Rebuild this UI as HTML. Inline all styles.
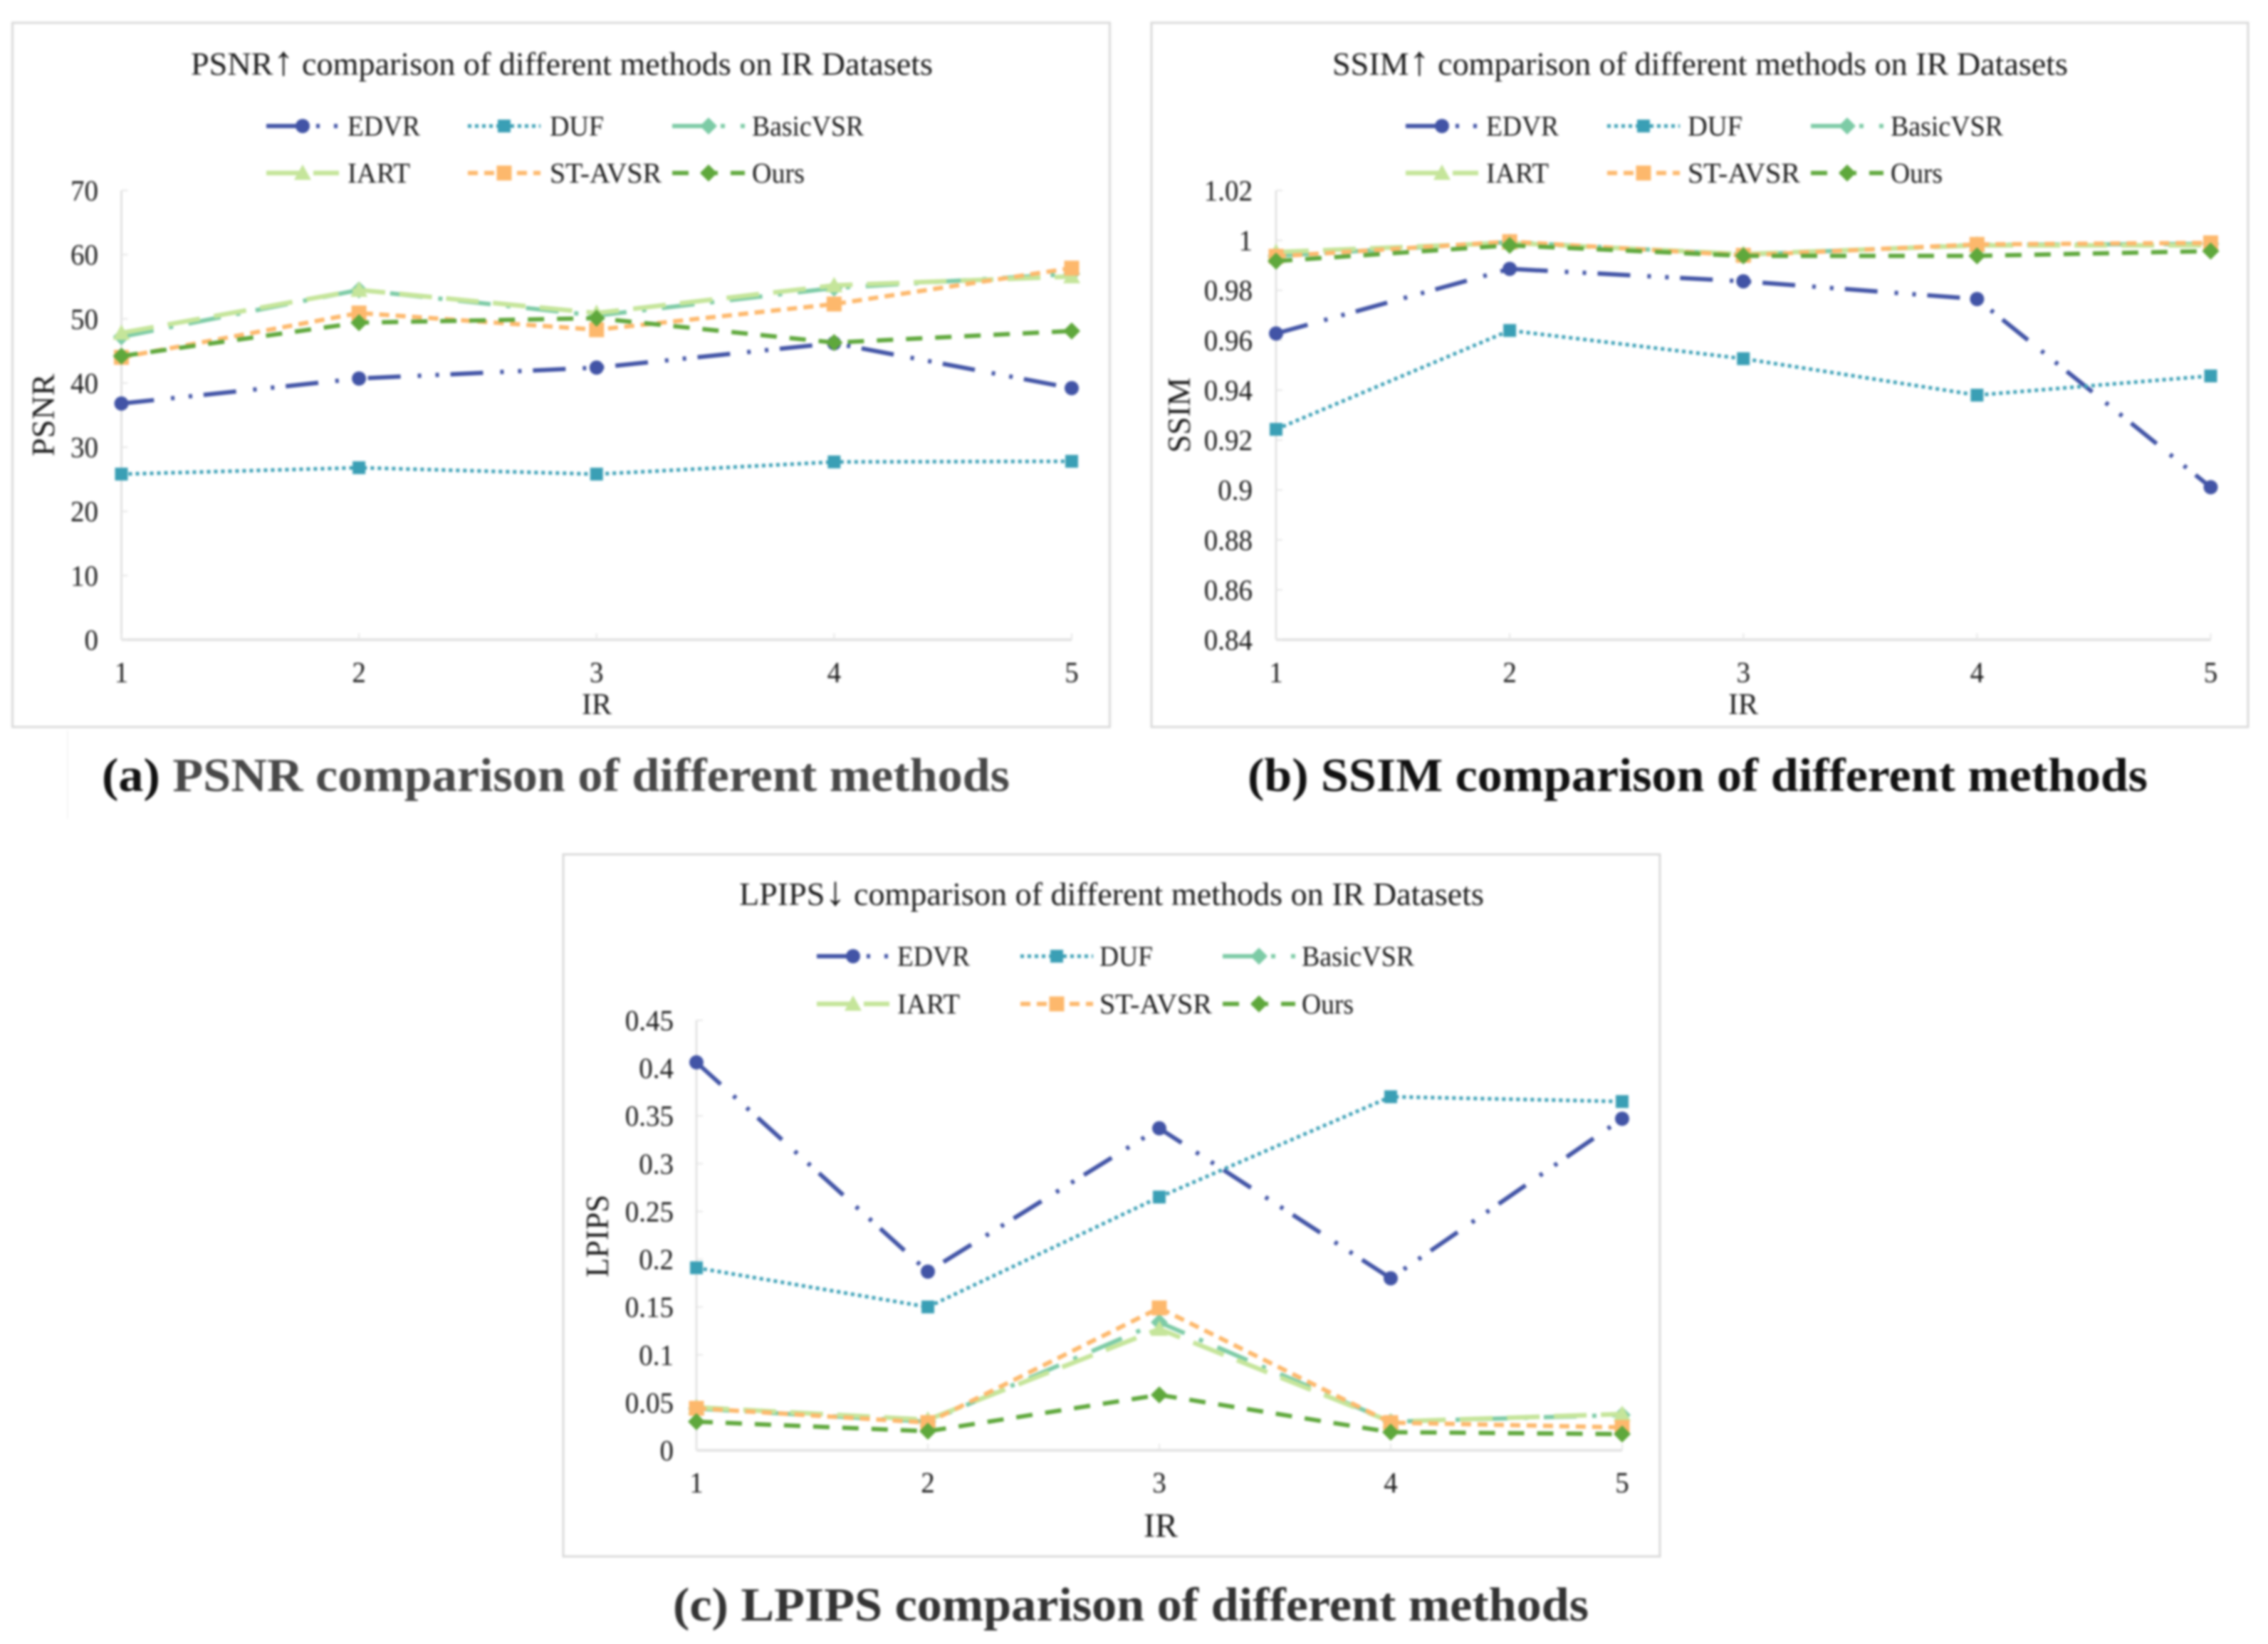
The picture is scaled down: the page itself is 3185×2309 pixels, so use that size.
<!DOCTYPE html>
<html lang="en">
<head>
<meta charset="utf-8">
<title>PSNR, SSIM and LPIPS comparison of different methods</title>
<style>
html,body{margin:0;padding:0;background:#fff;width:3185px;height:2309px;overflow:hidden}
svg{display:block;filter:blur(1.5px)}
text{font-family:"Liberation Serif",serif;fill:#1a1a1a}
.title{font-size:46px}
.arrow{font-size:58px}
.legend{font-size:40px}
.tick{font-size:41px}
.axis{font-size:45px}
.irsmall{font-size:42px}
.irbig{font-size:48px}
.cap{font-size:67px;font-weight:bold}
.frame{fill:#fff;stroke:#d9d9d9;stroke-width:3}
</style>
</head>
<body>
<svg id="figure" xmlns="http://www.w3.org/2000/svg" width="3185" height="2309" viewBox="0 0 3185 2309">
<rect width="3185" height="2309" fill="#fff"/>
<path d="M95 1026V1150" stroke="#f5f5f5" stroke-width="2" fill="none"/>

<g id="panel-a">
<rect class="frame" x="17.5" y="32" width="1541" height="989"/>
<text class="title" x="268" y="105" textLength="1042" lengthAdjust="spacingAndGlyphs">PSNR<tspan class="arrow">↑</tspan> comparison of different methods on IR Datasets</text>
<text class="axis" transform="translate(61 583) rotate(-90)" text-anchor="middle" dominant-baseline="central" textLength="116" lengthAdjust="spacingAndGlyphs">PSNR</text>
<text class="irsmall" x="838" y="990" text-anchor="middle" dominant-baseline="central">IR</text>
<text class="legend" x="488" y="177" dominant-baseline="central" textLength="102" lengthAdjust="spacingAndGlyphs">EDVR</text>
<text class="legend" x="772" y="177" dominant-baseline="central" textLength="76" lengthAdjust="spacingAndGlyphs">DUF</text>
<text class="legend" x="1056" y="177" dominant-baseline="central" textLength="157" lengthAdjust="spacingAndGlyphs">BasicVSR</text>
<text class="legend" x="488" y="243" dominant-baseline="central" textLength="88" lengthAdjust="spacingAndGlyphs">IART</text>
<text class="legend" x="772" y="243" dominant-baseline="central" textLength="157" lengthAdjust="spacingAndGlyphs">ST-AVSR</text>
<text class="legend" x="1056" y="243" dominant-baseline="central" textLength="74" lengthAdjust="spacingAndGlyphs">Ours</text>
</g>

<g id="panel-b">
<rect class="frame" x="1617" y="32" width="1540" height="989"/>
<text class="title" x="1871" y="105" textLength="1033" lengthAdjust="spacingAndGlyphs">SSIM<tspan class="arrow">↑</tspan> comparison of different methods on IR Datasets</text>
<text class="axis" transform="translate(1656 583) rotate(-90)" text-anchor="middle" dominant-baseline="central" textLength="106" lengthAdjust="spacingAndGlyphs">SSIM</text>
<text class="irsmall" x="2448" y="990" text-anchor="middle" dominant-baseline="central">IR</text>
<text class="legend" x="2087" y="177" dominant-baseline="central" textLength="102" lengthAdjust="spacingAndGlyphs">EDVR</text>
<text class="legend" x="2370" y="177" dominant-baseline="central" textLength="77" lengthAdjust="spacingAndGlyphs">DUF</text>
<text class="legend" x="2655" y="177" dominant-baseline="central" textLength="158" lengthAdjust="spacingAndGlyphs">BasicVSR</text>
<text class="legend" x="2087" y="243" dominant-baseline="central" textLength="88" lengthAdjust="spacingAndGlyphs">IART</text>
<text class="legend" x="2370" y="243" dominant-baseline="central" textLength="158" lengthAdjust="spacingAndGlyphs">ST-AVSR</text>
<text class="legend" x="2655" y="243" dominant-baseline="central" textLength="73" lengthAdjust="spacingAndGlyphs">Ours</text>
</g>

<g id="panel-c">
<rect class="frame" x="791" y="1200" width="1540" height="986"/>
<text class="title" x="1038" y="1271" textLength="1046" lengthAdjust="spacingAndGlyphs">LPIPS<tspan class="arrow">↓</tspan> comparison of different methods on IR Datasets</text>
<text class="axis" transform="translate(839 1736) rotate(-90)" text-anchor="middle" dominant-baseline="central" textLength="116" lengthAdjust="spacingAndGlyphs">LPIPS</text>
<text class="irbig" x="1630" y="2143" text-anchor="middle" dominant-baseline="central">IR</text>
<text class="legend" x="1260" y="1343" dominant-baseline="central" textLength="102" lengthAdjust="spacingAndGlyphs">EDVR</text>
<text class="legend" x="1544" y="1343" dominant-baseline="central" textLength="75" lengthAdjust="spacingAndGlyphs">DUF</text>
<text class="legend" x="1828" y="1343" dominant-baseline="central" textLength="158" lengthAdjust="spacingAndGlyphs">BasicVSR</text>
<text class="legend" x="1260" y="1410" dominant-baseline="central" textLength="88" lengthAdjust="spacingAndGlyphs">IART</text>
<text class="legend" x="1544" y="1410" dominant-baseline="central" textLength="158" lengthAdjust="spacingAndGlyphs">ST-AVSR</text>
<text class="legend" x="1828" y="1410" dominant-baseline="central" textLength="73" lengthAdjust="spacingAndGlyphs">Ours</text>
</g>

<text class="cap" x="143" y="1089" dominant-baseline="central" textLength="1275" lengthAdjust="spacingAndGlyphs"><tspan fill="#111">(a) </tspan><tspan fill="#484848">PSNR comparison of different methods</tspan></text>
<text class="cap" x="1752" y="1089" dominant-baseline="central" textLength="1264" lengthAdjust="spacingAndGlyphs"><tspan fill="#111">(b) SSIM comparison of different methods</tspan></text>
<text class="cap" x="945" y="2254" dominant-baseline="central" textLength="1286" lengthAdjust="spacingAndGlyphs"><tspan fill="#333">(c) LPIPS comparison of different methods</tspan></text>
</svg>

<script>
const categories = [1, 2, 3, 4, 5];
const seriesNames = ['EDVR', 'DUF', 'BasicVSR', 'IART', 'ST-AVSR', 'Ours'];

const psnrEdvr = [36.8, 40.7, 42.4, 46.2, 39.2];
const psnrDuf = [25.8, 26.8, 25.8, 27.7, 27.8];
const psnrBasicVsr = [47.2, 54.5, 50.5, 54.8, 57.0];
const psnrIart = [47.8, 54.5, 50.9, 55.2, 56.6];
const psnrStAvsr = [44.0, 50.9, 48.3, 52.3, 57.9];
const psnrOurs = [44.2, 49.4, 50.1, 46.3, 48.1];
const psnrTicks = ['0', '10', '20', '30', '40', '50', '60', '70'];

const ssimEdvr = [0.9627, 0.9886, 0.9836, 0.9765, 0.9011];
const ssimDuf = [0.9243, 0.9639, 0.9526, 0.938, 0.9457];
const ssimBasicVsr = [0.9938, 0.9993, 0.9943, 0.9982, 0.9986];
const ssimIart = [0.9953, 0.999, 0.9945, 0.998, 0.998];
const ssimStAvsr = [0.9936, 0.9995, 0.994, 0.9984, 0.999];
const ssimOurs = [0.9917, 0.998, 0.9938, 0.9938, 0.9957];
const ssimTicks = ['0.84', '0.86', '0.88', '0.9', '0.92', '0.94', '0.96', '0.98', '1', '1.02'];

const lpipsEdvr = [0.406, 0.187, 0.337, 0.18, 0.347];
const lpipsDuf = [0.191, 0.15, 0.265, 0.37, 0.365];
const lpipsBasicVsr = [0.0436, 0.03, 0.134, 0.03, 0.037];
const lpipsIart = [0.045, 0.032, 0.127, 0.03, 0.038];
const lpipsStAvsr = [0.044, 0.029, 0.149, 0.029, 0.024];
const lpipsOurs = [0.03, 0.02, 0.058, 0.019, 0.017];
const lpipsTicks = ['0', '0.05', '0.1', '0.15', '0.2', '0.25', '0.3', '0.35', '0.4', '0.45'];

const SVGNS = 'http://www.w3.org/2000/svg';
const seriesStyles = [
  {color: '#4254a6', dash: '46 24 5 20 5 16', width: 6, marker: 'circle', size: 10},
  {color: '#3a9fb5', dash: '5 5', width: 5, marker: 'square', size: 9},
  {color: '#7dcba6', dash: '46 22 6 22', width: 6, marker: 'diamond', size: 12},
  {color: '#c5e59a', dash: '46 20', width: 6.5, marker: 'triangle', size: 12},
  {color: '#fdb86c', dash: '14 9', width: 6, marker: 'square', size: 10.5},
  {color: '#5fa83c', dash: '23 18', width: 6, marker: 'diamond', size: 12}
];

function make(parent, tag, attrs) {
  const el = document.createElementNS(SVGNS, tag);
  for (const k in attrs) el.setAttribute(k, attrs[k]);
  parent.appendChild(el);
  return el;
}

function markerPath(kind, x, y, s) {
  if (kind === 'square') return `M${x - s} ${y - s}H${x + s}V${y + s}H${x - s}Z`;
  if (kind === 'diamond') return `M${x} ${y - s}L${x + s} ${y}L${x} ${y + s}L${x - s} ${y}Z`;
  if (kind === 'triangle') return `M${x} ${y - s}L${x + s} ${y + s * 0.8}H${x - s}Z`;
  return `M${x - s} ${y}A${s} ${s} 0 1 1 ${x + s} ${y}A${s} ${s} 0 1 1 ${x - s} ${y}Z`;
}

function labelWidth(label) {
  return (label.length - (label.includes('.') ? 0.5 : 0)) * 19.5;
}

function drawChart(cfg) {
  const g = document.getElementById(cfg.id);
  const xScale = function (c) {
    return cfg.left + (c - categories[0]) / (categories[categories.length - 1] - categories[0]) * (cfg.right - cfg.left);
  };
  const yScale = function (v) {
    return cfg.bottom - (v - cfg.min) / (cfg.max - cfg.min) * (cfg.bottom - cfg.top);
  };

  const yAxis = make(g, 'line', {x1: cfg.left, x2: cfg.left, y1: cfg.top, y2: cfg.bottom, stroke: '#e2e2e2', 'stroke-width': 3});
  
  
  const xAxis = make(g, 'line', {x1: cfg.left, x2: cfg.right, y1: cfg.bottom, y2: cfg.bottom, stroke: '#e2e2e2', 'stroke-width': 4});
  
  

  cfg.ticks.forEach(function (label) {
    const y = yScale(parseFloat(label));
    const mark = make(g, 'line', {x1: cfg.left, x2: cfg.left + 9, y1: y, y2: y, stroke: '#e6e6e6', 'stroke-width': 2});
    
    
    const t = make(g, 'text', {class: 'tick', x: cfg.labelRight, y: y, 'text-anchor': 'end', 'dominant-baseline': 'central', textLength: labelWidth(label), lengthAdjust: 'spacingAndGlyphs'});
    t.textContent = label;
    
    
  });

  categories.forEach(function (c) {
    const x = xScale(c);
    const mark = make(g, 'line', {x1: x, x2: x, y1: cfg.bottom - 9, y2: cfg.bottom, stroke: '#e6e6e6', 'stroke-width': 2});
    
    
    const t = make(g, 'text', {class: 'tick', x: x, y: cfg.tickY, 'text-anchor': 'middle', 'dominant-baseline': 'central', textLength: 19.5, lengthAdjust: 'spacingAndGlyphs'});
    t.textContent = String(c);
    
    
  });

  cfg.series.forEach(function (values, i) {
    const st = seriesStyles[i];
    const pts = values.map(function (v, j) { return xScale(categories[j]) + ',' + yScale(v); }).join(' ');
    const line = make(g, 'polyline', {points: pts, fill: 'none', stroke: st.color, 'stroke-width': st.width, 'stroke-dasharray': st.dash});
    
    
    values.forEach(function (v, j) {
      const dot = make(g, 'path', {d: markerPath(st.marker, xScale(categories[j]), yScale(v), st.size), fill: st.color});
      
      
    });

    const col = i % 3;
    const row = Math.floor(i / 3);
    const lx = cfg.legendCols[col];
    const ly = cfg.legendRows[row];
    const sample = make(g, 'line', {x1: lx, x2: lx + 102, y1: ly, y2: ly, stroke: st.color, 'stroke-width': st.width, 'stroke-dasharray': st.dash});
    
    
    const key = make(g, 'path', {d: markerPath(st.marker, lx + 51, ly, st.size), fill: st.color});
    
    
  });
}

drawChart({
  id: 'panel-a', key: 'psnr',
  series: [psnrEdvr, psnrDuf, psnrBasicVsr, psnrIart, psnrStAvsr, psnrOurs],
  ticks: psnrTicks, min: 0, max: 70,
  left: 170.5, right: 1505, top: 267.5, bottom: 898.5, labelRight: 138, tickY: 944,
  legendCols: [374, 657, 944], legendRows: [177, 243]
});
drawChart({
  id: 'panel-b', key: 'ssim',
  series: [ssimEdvr, ssimDuf, ssimBasicVsr, ssimIart, ssimStAvsr, ssimOurs],
  ticks: ssimTicks, min: 0.84, max: 1.02,
  left: 1792, right: 3104.5, top: 267.5, bottom: 898.5, labelRight: 1759, tickY: 944,
  legendCols: [1974, 2257, 2543], legendRows: [177, 243]
});
drawChart({
  id: 'panel-c', key: 'lpips',
  series: [lpipsEdvr, lpipsDuf, lpipsBasicVsr, lpipsIart, lpipsStAvsr, lpipsOurs],
  ticks: lpipsTicks, min: 0, max: 0.45,
  left: 978, right: 2278, top: 1433, bottom: 2037, labelRight: 946, tickY: 2082,
  legendCols: [1147, 1433, 1717], legendRows: [1343, 1410]
});
</script>
</body>
</html>
